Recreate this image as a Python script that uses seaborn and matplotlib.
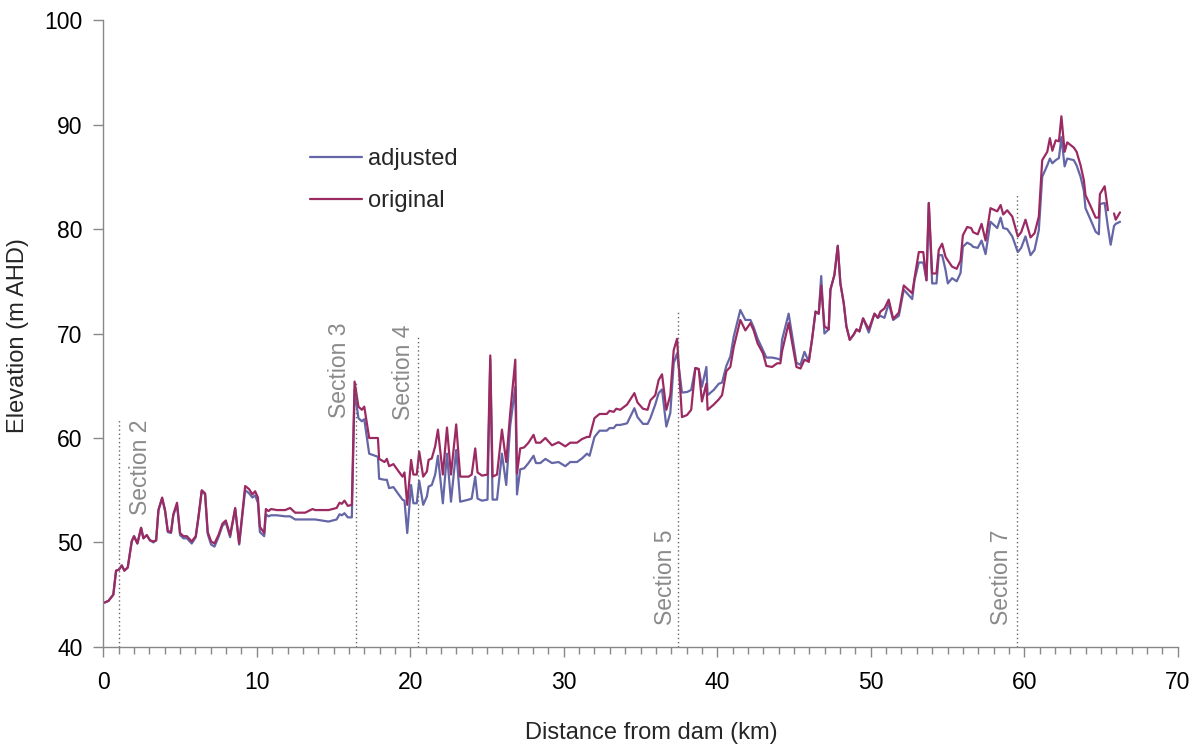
"""
Elevation profile - adjusted vs original
"""

import numpy as np
import pandas as pd
import matplotlib
matplotlib.use('Agg')
import matplotlib.pyplot as plt
from matplotlib.ticker import MultipleLocator
import seaborn as sns

# %% Data

distance_km = [
    0.0, 0.33, 0.65, 0.83, 1.02, 1.2, 1.37, 1.59, 1.85, 2.0, 2.22, 2.46, 2.61, 2.83,
    3.04, 3.26, 3.44, 3.59, 3.83, 4.02, 4.2, 4.41, 4.56, 4.8, 5.0, 5.22, 5.44, 5.76,
    6.02, 6.2, 6.41, 6.63, 6.8, 7.02, 7.24, 7.5, 7.76, 7.98, 8.26, 8.59, 8.85, 9.24,
    9.5, 9.71, 9.89, 10.07, 10.2, 10.48, 10.59, 10.76, 10.93, 11.3, 11.85, 12.17, 12.5,
    13.15, 13.63, 13.8, 14.67, 14.93, 15.2, 15.39, 15.54, 15.71, 15.93, 16.19, 16.37,
    16.62, 16.84, 17.0, 17.32, 17.89, 17.97, 18.32, 18.47, 18.62, 18.9, 19.19, 19.49,
    19.62, 19.8, 20.05, 20.2, 20.42, 20.58, 20.84, 21.08, 21.19, 21.4, 21.62, 21.8,
    22.12, 22.39, 22.65, 22.99, 23.25, 23.8, 24.0, 24.23, 24.38, 24.67, 25.03, 25.21,
    25.36, 25.65, 25.97, 26.25, 26.51, 26.84, 26.95, 27.16, 27.42, 27.7, 28.03, 28.19,
    28.47, 28.8, 29.23, 29.66, 30.1, 30.42, 30.86, 31.19, 31.51, 31.68, 32.0, 32.33,
    32.8, 32.98, 33.25, 33.42, 33.68, 34.12, 34.6, 34.8, 35.16, 35.46, 35.64, 35.96,
    36.18, 36.4, 36.68, 36.94, 37.16, 37.38, 37.7, 38.03, 38.3, 38.57, 38.79, 39.0,
    39.29, 39.37, 39.77, 40.1, 40.31, 40.59, 40.85, 41.07, 41.5, 41.83, 42.16, 42.37,
    42.63, 42.98, 43.2, 43.57, 43.9, 44.11, 44.22, 44.65, 45.16, 45.42, 45.68, 45.96,
    46.18, 46.4, 46.61, 46.77, 46.98, 47.26, 47.37, 47.63, 47.85, 48.02, 48.24, 48.41,
    48.63, 48.89, 49.07, 49.26, 49.5, 49.87, 50.24, 50.46, 50.63, 50.89, 51.17, 51.46,
    51.83, 52.15, 52.7, 52.85, 53.13, 53.42, 53.63, 53.78, 54.0, 54.28, 54.43, 54.65,
    54.87, 55.02, 55.3, 55.6, 55.85, 56.0, 56.28, 56.54, 56.67, 56.97, 57.22, 57.48,
    57.8, 58.24, 58.46, 58.63, 58.89, 59.22, 59.58, 59.8, 60.08, 60.41, 60.67, 60.95,
    61.17, 61.5, 61.67, 61.83, 62.05, 62.26, 62.42, 62.63, 62.8, 63.23, 63.41, 63.67,
    63.88, 63.99, 64.32, 64.65, 64.86, 64.93, 65.24, 65.45, 65.63, 65.85, 65.96, 66.24,
]

adjusted = [
    44.2, 44.4, 45.0, 47.3, 47.4, 47.8, 47.3, 47.6, 50.1, 50.6, 49.9, 51.4, 50.4, 50.7,
    50.2, 50.0, 50.2, 53.1, 54.2, 53.0, 51.0, 50.9, 52.6, 53.6, 50.7, 50.4, 50.4, 49.9,
    50.5, 52.4, 54.9, 54.6, 50.8, 49.8, 49.6, 50.5, 51.6, 51.9, 50.5, 53.2, 49.8, 55.0,
    54.7, 54.3, 54.5, 53.8, 51.0, 50.6, 52.7, 52.5, 52.6, 52.6, 52.5, 52.5, 52.2,
    52.2, 52.2, 52.2, 52.0, 52.1, 52.2, 52.7, 52.6, 52.8, 52.4, 52.4, 64.6,
    61.9, 61.6, 61.8, 58.5, 58.2, 56.1, 56.0, 56.0, 55.2, 55.3, 54.7, 54.1,
    54.0, 50.9, 55.5, 53.75, 53.75, 55.9, 53.6, 54.4, 55.35, 55.5, 56.5, 58.3,
    53.75, 58.5, 53.9, 58.85, 53.9, 54.1, 54.2, 56.3, 54.2, 54.0, 54.1, 67.5,
    54.1, 54.1, 58.5, 55.5, 61.2, 64.9, 54.6, 57.0, 57.1, 57.6, 58.3, 57.6,
    57.6, 58.0, 57.6, 57.7, 57.3, 57.7, 57.7, 58.05, 58.5, 58.3, 60.1, 60.7,
    60.7, 60.95, 60.95, 61.25, 61.25, 61.4, 62.85, 62.0, 61.35, 61.35, 61.9, 63.2,
    64.3, 64.65, 61.1, 62.4, 67.15, 68.1, 64.35, 64.4, 64.6, 66.7, 66.6, 64.9,
    66.8, 64.1, 64.6, 65.2, 65.3, 66.9, 67.8, 69.7, 72.25, 71.3, 71.3, 70.6,
    69.5, 68.4, 67.7, 67.7, 67.6, 67.5, 69.4, 71.9, 67.2, 67.0, 68.25, 67.3,
    69.5, 72.1, 71.9, 75.5, 70.0, 70.4, 74.2, 75.6, 78.4, 74.8, 72.9, 70.7,
    69.4, 69.9, 70.4, 70.2, 71.45, 70.1, 71.9, 71.5, 71.7, 71.5, 72.9, 71.3,
    71.7, 74.2, 73.3, 75.1, 76.8, 76.8, 75.1, 82.5, 74.8, 74.8, 77.5, 77.5,
    76.1, 74.8, 75.3, 75.0, 75.8, 78.3, 78.7, 78.5, 78.3, 78.2, 78.9, 77.6,
    80.7, 80.1, 81.1, 80.1, 80.0, 79.3, 77.8, 78.2, 79.3, 77.5, 78.0, 79.9,
    85.0, 86.1, 86.75, 86.3, 86.6, 86.8, 88.8, 86.0, 86.75, 86.6, 86.1, 85.0,
    83.7, 82.0, 80.9, 79.75, 79.5, 82.4, 82.5, 80.2, 78.5, 80.3, 80.5, 80.7,
]

original = [
    44.2, 44.4, 45.0, 47.3, 47.4, 47.8, 47.3, 47.6, 50.1, 50.6, 49.9, 51.4, 50.4, 50.7,
    50.2, 50.1, 50.2, 53.1, 54.3, 53.1, 51.1, 51.0, 52.7, 53.8, 50.9, 50.6, 50.6, 50.1,
    50.6, 52.5, 55.0, 54.7, 51.0, 50.1, 49.9, 50.7, 51.8, 52.1, 50.7, 53.3, 49.9, 55.4,
    55.1, 54.6, 54.9, 54.3, 51.5, 50.9, 53.2, 53.0, 53.2, 53.1, 53.1, 53.3, 52.85,
    52.85, 53.2, 53.1, 53.1, 53.2, 53.3, 53.8, 53.7, 54.0, 53.5, 53.6, 65.4,
    63.0, 62.7, 63.0, 60.0, 60.0, 58.0, 57.7, 58.0, 57.3, 57.5, 56.9, 56.3,
    56.7, 53.6, 57.9, 56.5, 56.5, 58.7, 56.3, 56.8, 57.9, 58.05, 59.2, 60.8,
    56.5, 61.0, 56.5, 61.3, 56.3, 56.3, 56.5, 59.0, 56.7, 56.4, 56.5, 67.9,
    56.3, 56.5, 60.8, 57.7, 62.4, 67.5, 56.6, 59.0, 59.1, 59.55, 60.3, 59.55,
    59.55, 60.0, 59.3, 59.6, 59.2, 59.55, 59.55, 59.9, 60.1, 60.1, 61.9, 62.3,
    62.3, 62.6, 62.5, 62.8, 62.7, 63.2, 64.3, 63.4, 62.8, 62.7, 63.6, 64.1,
    65.55, 66.1, 62.7, 64.1, 68.4, 69.5, 62.0, 62.2, 62.7, 66.7, 66.6, 63.5,
    65.2, 62.7, 63.2, 63.7, 64.1, 66.4, 66.8, 68.7, 71.3, 70.3, 71.0, 70.3,
    69.05, 68.1, 66.9, 66.8, 67.15, 67.15, 68.3, 71.0, 66.8, 66.65, 67.5, 67.3,
    69.5, 72.1, 71.9, 74.6, 70.7, 70.4, 74.2, 75.6, 78.4, 74.8, 72.9, 70.7,
    69.4, 69.9, 70.4, 70.2, 71.45, 70.4, 71.9, 71.5, 72.1, 72.4, 73.25, 71.4,
    72.0, 74.6, 73.85, 75.3, 77.8, 77.8, 75.1, 82.5, 75.75, 75.75, 78.0, 78.6,
    77.35, 77.0, 76.4, 76.2, 77.0, 79.4, 80.2, 80.1, 79.7, 79.5, 80.5, 78.9,
    82.0, 81.7, 82.3, 81.4, 81.8, 81.2, 79.3, 79.7, 80.9, 79.2, 79.6, 81.2,
    86.6, 87.4, 88.7, 87.5, 88.5, 88.4, 90.8, 87.4, 88.3, 87.8, 87.4, 86.1,
    84.7, 83.25, 82.2, 81.1, 81.1, 83.35, 84.1, 81.8, np.nan, 81.5, 80.9, 81.6,
]

section_names = ['Section 2', 'Section 3', 'Section 4', 'Section 5', 'Section 7']
section_km = [1.04, 16.43, 20.5, 37.45, 59.55]
section_top = [61.9, 65.5, 69.7, 72.2, 83.3]
label_km = [2.4, 15.4, 19.55, 36.6, 58.55]
label_base = [52.6, 61.9, 61.7, 42.1, 42.1]

# %% Tidy frame, the gap in "original" gets its own segment

orig_arr = np.array(original, dtype=float)
orig_seg = np.cumsum(np.isnan(orig_arr))

profile = pd.concat([
    pd.DataFrame({'km': distance_km, 'elevation': adjusted,
                  'series': 'adjusted', 'segment': 0}),
    pd.DataFrame({'km': distance_km, 'elevation': orig_arr,
                  'series': 'original', 'segment': orig_seg}),
]).dropna()

# %% Plot

sns.set_style('white')
plt.rcParams['font.family'] = ['Liberation Sans', 'DejaVu Sans']

fig, ax = plt.subplots(figsize=(12.03, 7.47), dpi=100)
fig.subplots_adjust(left=0.0859, right=0.979, bottom=0.134, top=0.973)

sns.lineplot(data=profile, x='km', y='elevation', hue='series',
             units='segment', estimator=None, sort=False,
             hue_order=['adjusted', 'original'],
             palette={'adjusted': '#6466a6', 'original': '#9c2a62'},
             linewidth=1.6, ax=ax)

for name, xk, top, lx, lb in zip(section_names, section_km, section_top,
                                 label_km, label_base):
    ax.vlines(xk, 40, top, colors='#666666', linestyles=(0, (1, 2)), linewidth=1.0)
    ax.text(lx, lb, name, rotation=90, ha='center', va='bottom',
            fontsize=16.5, color='#8a8a8a')

ax.set_xlim(0, 70)
ax.set_ylim(40, 100)
ax.xaxis.set_major_locator(MultipleLocator(10))
ax.xaxis.set_minor_locator(MultipleLocator(1))
ax.yaxis.set_major_locator(MultipleLocator(10))

for side in ['top', 'right']:
    ax.spines[side].set_visible(False)
for side in ['left', 'bottom']:
    ax.spines[side].set_color('#888888')
    ax.spines[side].set_linewidth(1.0)

ax.tick_params(axis='both', which='major', direction='out', length=7, width=1,
               color='#888888', labelsize=16.5, labelcolor='black', pad=8)
ax.tick_params(axis='x', which='minor', direction='out', length=5, width=1,
               color='#888888', bottom=True)
ax.tick_params(axis='x', which='major', pad=10, bottom=True)
ax.tick_params(axis='y', left=True)

ax.set_xlabel('Distance from dam (km)', fontsize=17)
ax.set_ylabel('Elevation (m AHD)', fontsize=17)
ax.xaxis.set_label_coords(0.51, -0.12)
ax.yaxis.set_label_coords(-0.069, 0.497)

ax.legend(title=None, frameon=False, fontsize=17, loc='upper left',
          bbox_to_anchor=(0.240, 0.83), bbox_transform=fig.transFigure,
          handlelength=2.2, handletextpad=0.25, labelspacing=0.85)

fig.savefig('out.png', dpi=100)
